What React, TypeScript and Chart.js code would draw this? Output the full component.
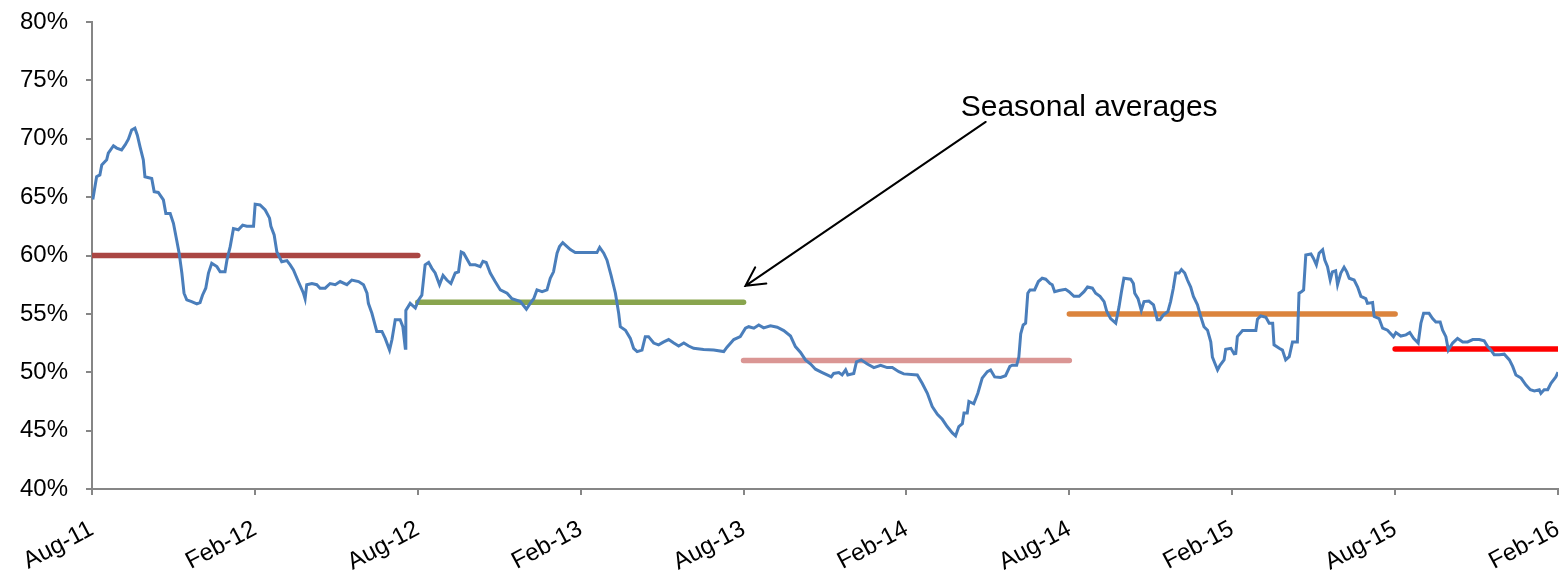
import React, { useEffect, useRef } from "react";
import { Chart, registerables } from "chart.js";

Chart.register(...registerables);

// x axis: months since Aug-2011; tick every 6 months
const tickLabels = ["Aug-11", "Feb-12", "Aug-12", "Feb-13", "Aug-13", "Feb-14", "Aug-14", "Feb-15", "Aug-15", "Feb-16"];

// blue series: [month offset, percent]
const rateMonths = [
  0.03, 0.17, 0.29, 0.36, 0.54, 0.6, 0.79, 0.91, 1.09, 1.22, 1.34, 1.46, 1.58, 1.67, 1.77, 1.89, 1.95, 2.2, 2.29, 2.44,
  2.63, 2.72, 2.88, 3.0, 3.12, 3.21, 3.31, 3.39, 3.49, 3.67, 3.86, 3.98, 4.07, 4.19, 4.29, 4.41, 4.6, 4.72, 4.9, 4.97,
  5.09, 5.21, 5.39, 5.55, 5.7, 5.95, 6.01, 6.19, 6.38, 6.54, 6.59, 6.71, 6.81, 6.99, 7.18, 7.3, 7.42, 7.6, 7.79, 7.85,
  7.91, 8.1, 8.28, 8.4, 8.59, 8.77, 8.96, 9.14, 9.39, 9.57, 9.82, 10.0, 10.13, 10.18, 10.31, 10.49, 10.68, 10.8, 10.96, 11.05,
  11.17, 11.35, 11.45, 11.54, 11.56, 11.72, 11.91, 12.03, 12.15, 12.27, 12.4, 12.52, 12.64, 12.8, 12.93, 13.07, 13.22, 13.38, 13.5, 13.6,
  13.69, 13.93, 14.12, 14.3, 14.4, 14.52, 14.67, 14.85, 15.04, 15.29, 15.47, 15.78, 16.0, 16.14, 16.27, 16.39, 16.58, 16.76, 16.88, 17.0,
  17.13, 17.22, 17.34, 17.5, 17.62, 17.8, 18.23, 18.6, 18.7, 18.85, 18.97, 19.12, 19.28, 19.4, 19.46, 19.65, 19.83, 19.95, 20.08, 20.26,
  20.38, 20.5, 20.69, 20.87, 21.06, 21.24, 21.43, 21.61, 21.8, 21.98, 22.16, 22.53, 22.9, 23.27, 23.39, 23.64, 23.88, 24.07, 24.19, 24.38,
  24.56, 24.74, 24.99, 25.24, 25.48, 25.73, 25.91, 26.1, 26.28, 26.47, 26.65, 26.9, 27.08, 27.23, 27.32, 27.51, 27.63, 27.76, 27.84, 28.06,
  28.16, 28.33, 28.56, 28.8, 29.05, 29.29, 29.48, 29.72, 29.9, 30.4, 30.58, 30.77, 30.95, 31.14, 31.32, 31.5, 31.69, 31.81, 31.93, 32.06,
  32.12, 32.24, 32.3, 32.48, 32.63, 32.79, 32.98, 33.1, 33.25, 33.47, 33.65, 33.81, 33.9, 34.06, 34.14, 34.21, 34.3, 34.39, 34.47, 34.55,
  34.72, 34.86, 35.0, 35.13, 35.29, 35.37, 35.46, 35.62, 35.86, 35.99, 36.17, 36.36, 36.54, 36.67, 36.85, 36.97, 37.13, 37.28, 37.38, 37.52,
  37.71, 37.83, 37.92, 38.01, 38.26, 38.36, 38.41, 38.53, 38.65, 38.75, 38.93, 39.1, 39.24, 39.34, 39.46, 39.63, 39.73, 39.83, 39.92, 40.04,
  40.13, 40.25, 40.35, 40.47, 40.57, 40.72, 40.84, 40.96, 41.09, 41.21, 41.27, 41.36, 41.46, 41.55, 41.7, 41.76, 41.95, 42.07, 42.13, 42.19,
  42.38, 42.87, 42.93, 43.05, 43.24, 43.36, 43.49, 43.54, 43.73, 43.85, 43.97, 44.1, 44.22, 44.4, 44.46, 44.55, 44.63, 44.71, 44.9, 44.99,
  45.1, 45.2, 45.33, 45.41, 45.51, 45.61, 45.69, 45.81, 45.88, 46.0, 46.12, 46.22, 46.31, 46.49, 46.62, 46.74, 46.92, 46.98, 47.17, 47.23,
  47.41, 47.54, 47.72, 47.84, 47.94, 48.03, 48.21, 48.4, 48.54, 48.68, 48.85, 48.95, 49.05, 49.25, 49.38, 49.5, 49.66, 49.75, 49.87, 49.96,
  50.12, 50.3, 50.49, 50.67, 50.86, 51.1, 51.28, 51.41, 51.53, 51.65, 51.84, 52.02, 52.21, 52.33, 52.45, 52.64, 52.82, 52.98, 53.13, 53.31,
  53.37, 53.49, 53.62, 53.74, 53.92, 54.0,
];
const rateValues = [
  64.8, 66.75, 66.9, 67.76, 68.2, 68.76, 69.4, 69.2, 69.04, 69.47, 69.96, 70.75, 70.9, 70.3, 69.3, 68.2, 66.75, 66.6, 65.47, 65.4,
  64.76, 63.6, 63.6, 62.76, 61.3, 60.2, 58.5, 56.77, 56.2, 56.05, 55.85, 55.97, 56.6, 57.2, 58.5, 59.34, 59.05, 58.6, 58.6, 59.6,
  60.76, 62.3, 62.2, 62.6, 62.5, 62.5, 64.4, 64.33, 63.9, 63.2, 62.5, 61.76, 60.3, 59.47, 59.56, 59.2, 58.77, 57.77, 56.77, 56.3,
  57.5, 57.6, 57.5, 57.2, 57.2, 57.6, 57.5, 57.77, 57.5, 57.9, 57.77, 57.5, 56.77, 55.9, 55.05, 53.5, 53.5, 52.9, 51.9, 52.8,
  54.5, 54.5, 53.9, 52.05, 55.3, 55.9, 55.5, 56.2, 56.6, 59.2, 59.4, 58.9, 58.5, 57.5, 58.3, 57.9, 57.6, 58.5, 58.6, 60.3,
  60.2, 59.2, 59.2, 59.05, 59.5, 59.4, 58.5, 57.77, 57.05, 56.77, 56.3, 56.05, 55.4, 55.9, 56.3, 57.05, 56.9, 57.05, 58.05, 58.6,
  60.2, 60.76, 61.1, 60.76, 60.5, 60.25, 60.25, 60.25, 60.7, 60.2, 59.6, 58.3, 56.77, 55.05, 53.9, 53.6, 52.9, 52.05, 51.77, 51.9,
  53.05, 53.05, 52.5, 52.35, 52.6, 52.8, 52.5, 52.25, 52.5, 52.25, 52.05, 51.95, 51.9, 51.77, 52.15, 52.8, 53.05, 53.77, 53.9, 53.77,
  54.05, 53.8, 53.97, 53.86, 53.57, 53.1, 52.2, 51.7, 51.06, 50.7, 50.26, 49.97, 49.77, 49.6, 49.9, 49.97, 49.77, 50.2, 49.77, 49.9,
  50.9, 51.06, 50.7, 50.4, 50.6, 50.4, 50.4, 50.05, 49.86, 49.77, 49.06, 48.2, 47.06, 46.4, 45.97, 45.35, 44.8, 44.55, 45.35, 45.6,
  46.5, 46.5, 47.5, 47.3, 48.2, 49.5, 50.05, 50.2, 49.6, 49.55, 49.7, 50.5, 50.6, 50.6, 51.3, 53.3, 54.05, 54.2, 56.77, 57.05,
  57.05, 57.77, 58.05, 57.97, 57.6, 57.5, 56.9, 57.0, 57.1, 56.9, 56.5, 56.5, 56.9, 57.3, 57.2, 56.77, 56.5, 56.05, 55.2, 54.6,
  54.2, 55.6, 56.9, 58.05, 57.97, 57.6, 56.77, 56.3, 55.3, 56.05, 56.1, 55.77, 54.5, 54.5, 54.9, 55.2, 56.05, 57.2, 58.5, 58.5,
  58.8, 58.5, 57.9, 57.3, 56.5, 55.77, 54.77, 53.9, 53.6, 52.6, 51.3, 50.77, 50.2, 50.6, 51.06, 51.97, 52.05, 51.57, 51.6, 53.05,
  53.57, 53.57, 54.55, 54.83, 54.7, 54.2, 54.2, 52.35, 52.05, 51.9, 51.06, 51.34, 52.6, 52.6, 56.77, 56.9, 57.05, 60.05, 60.13, 59.77,
  59.2, 60.2, 60.5, 59.6, 59.05, 57.9, 58.6, 58.7, 57.5, 58.5, 59.0, 58.6, 58.05, 57.9, 57.3, 56.5, 56.3, 55.9, 55.97, 54.77,
  54.6, 53.77, 53.6, 53.3, 53.05, 53.4, 53.1, 53.2, 53.4, 52.9, 52.5, 54.2, 55.05, 55.05, 54.6, 54.3, 54.3, 53.6, 53.05, 51.9,
  52.5, 52.9, 52.6, 52.6, 52.8, 52.8, 52.7, 52.2, 51.9, 51.5, 51.5, 51.55, 51.06, 50.5, 49.77, 49.5, 48.9, 48.5, 48.4, 48.5,
  48.2, 48.5, 48.5, 49.06, 49.6, 50.0,
];

// seasonal averages (month offsets, percent)
const seasonStart = [0, 12, 24, 36, 48];
const seasonEnd = [12, 24, 36, 48, 54];
const seasonAvg = [60, 56, 51, 55, 52];
const seasonColors = ["#AA4643", "#89A54E", "#DA9694", "#DB843D", "#FF0000"];

// annotation, in data units
const noteText = "Seasonal averages";
const noteAt = { x: 32.0, y: 71.95 };
const arrowFrom = { x: 32.92, y: 71.44 };
const arrowTo = { x: 24.07, y: 57.4 };

const FONT = "'Liberation Sans', Arial, sans-serif";

export default function App() {
  const ref = useRef<HTMLCanvasElement | null>(null);

  useEffect(() => {
    if (!ref.current) return;

    const seasonSets = seasonAvg.map((v, i) => ({
      label: "Season " + (i + 1),
      data: [
        { x: seasonStart[i], y: v },
        { x: seasonEnd[i], y: v },
      ],
      borderColor: seasonColors[i],
      backgroundColor: seasonColors[i],
      borderWidth: 5.5,
      borderCapStyle: "round" as const,
      pointRadius: 0,
      fill: false,
      order: 2,
    }));

    const annotation = {
      id: "note",
      afterDatasetsDraw(chart: any) {
        const { ctx, scales } = chart;
        const xs = scales.x;
        const ys = scales.y;
        ctx.save();
        ctx.fillStyle = "#000";
        ctx.font = `30px ${FONT}`;
        ctx.textAlign = "left";
        ctx.textBaseline = "alphabetic";
        ctx.fillText(noteText, xs.getPixelForValue(noteAt.x), ys.getPixelForValue(noteAt.y));
        const x1 = xs.getPixelForValue(arrowFrom.x);
        const y1 = ys.getPixelForValue(arrowFrom.y);
        const x2 = xs.getPixelForValue(arrowTo.x);
        const y2 = ys.getPixelForValue(arrowTo.y);
        ctx.strokeStyle = "#000";
        ctx.lineWidth = 2;
        ctx.lineCap = "round";
        ctx.beginPath();
        ctx.moveTo(x1, y1);
        ctx.lineTo(x2, y2);
        const ang = Math.atan2(y1 - y2, x1 - x2);
        const len = 21;
        const spread = (28 * Math.PI) / 180;
        ctx.moveTo(x2 + len * Math.cos(ang - spread), y2 + len * Math.sin(ang - spread));
        ctx.lineTo(x2, y2);
        ctx.lineTo(x2 + len * Math.cos(ang + spread), y2 + len * Math.sin(ang + spread));
        ctx.stroke();
        ctx.restore();
      },
    };

    const chart = new Chart(ref.current, {
      type: "line",
      data: {
        datasets: [
          {
            label: "Rate",
            data: rateMonths.map((m, i) => ({ x: m, y: rateValues[i] })),
            borderColor: "#4A7EBB",
            backgroundColor: "#4A7EBB",
            borderWidth: 3,
            pointRadius: 0,
            tension: 0,
            fill: false,
            order: 1,
          },
          ...seasonSets,
        ],
      },
      options: {
        responsive: true,
        maintainAspectRatio: false,
        animation: false,
        layout: { padding: { top: 22, right: 2, left: 0, bottom: 0 } },
        plugins: {
          legend: { display: false },
          tooltip: { enabled: false },
        },
        scales: {
          x: {
            type: "linear",
            min: 0,
            max: 54,
            afterFit(scale: any) {
              scale.height = 85;
              scale.paddingLeft = 0;
              scale.paddingRight = 0;
            },
            afterBuildTicks(scale: any) {
              scale.ticks = tickLabels.map((_, i) => ({ value: i * 6 }));
            },
            ticks: {
              autoSkip: false,
              minRotation: 28,
              maxRotation: 28,
              padding: 20,
              color: "#000",
              font: { family: FONT, size: 24 },
              callback: (v: any) => tickLabels[Math.round(Number(v) / 6)] ?? "",
            },
            grid: { drawOnChartArea: false, drawTicks: true, tickLength: 6, color: "#868686", lineWidth: 2 },
            border: { color: "#868686", width: 2 },
          },
          y: {
            min: 40,
            max: 80,
            afterFit(scale: any) {
              scale.width = 92;
              scale.paddingTop = 0;
              scale.paddingBottom = 0;
            },
            ticks: {
              stepSize: 5,
              padding: 18,
              color: "#000",
              font: { family: FONT, size: 24 },
              callback: (v: any) => v + "%",
            },
            grid: { drawOnChartArea: false, drawTicks: true, tickLength: 6, color: "#868686", lineWidth: 2 },
            border: { color: "#868686", width: 2 },
          },
        },
      },
      plugins: [annotation],
    });
    return () => chart.destroy();
  }, []);

  return (
    <div style={{ position: "absolute", left: 0, top: 0, width: 1560, height: 574, background: "#fff" }}>
      <canvas ref={ref} />
    </div>
  );
}
